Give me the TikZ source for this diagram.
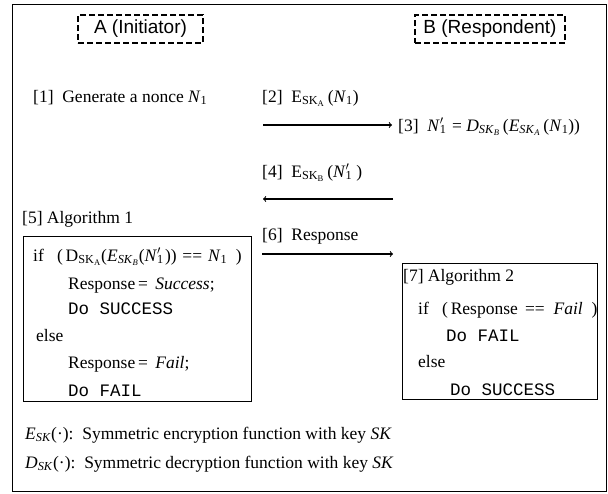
\documentclass[tikz,border=0pt]{standalone}
\usepackage{fontspec}
\setmainfont{Liberation Serif}
\setsansfont{Liberation Sans}
\setmonofont{Liberation Mono}
\usetikzlibrary{positioning}

\newcommand{\lo}[1]{\textsubscript{#1}}
\newcommand{\None}{\textit{N}\lo{1}}
\newcommand{\Nprime}{\textit{N}\rlap{\lo{1}}\makebox[0.45em][l]{$^{\prime}$}}

\begin{document}
\begin{tikzpicture}[x=1pt,y=-1pt,
	every node/.style={inner sep=0pt},
	txt/.style={anchor=base west,font=\fontsize{17.5}{21}\selectfont},
	actor/.style={draw,dash pattern=on 6pt off 3pt,line width=1.6pt,font=\sffamily\fontsize{19}{22}\selectfont,minimum height=28pt},
	algbox/.style={draw,line width=0.8pt,anchor=north west},
	msg/.style={->,line width=1.1pt}]
	\useasboundingbox (0,0) rectangle (608,493);
	\draw[line width=0.8pt] (12,4) rectangle (606,491);
	% the two parties
	\node[actor,minimum width=125pt] (initiator) at (140.5,29) {A (Initiator)};
	\node[actor,minimum width=150pt] (respondent) at (490,29) {B (Respondent)};
	% steps
	\node[txt] (step1) at (33,102) {[1]\ \ Generate a nonce \None};
	\node[txt] (step2) at (262,102) {[2]\ \ E\lo{SK\lo{A}}\,(\None)};
	\node[txt] (step3) at (398,131) {[3]\ \ \Nprime\ =\ \textit{D}\lo{\textit{SK}\lo{\textit{B}}}\,(\textit{E}\lo{\textit{SK}\lo{\textit{A}}}\,(\None))};
	\node[txt] (step4) at (262,177) {[4]\ \ E\lo{SK\lo{B}}\,(\Nprime\,)};
	\node[txt] (step5) at (22,223) {[5] Algorithm 1};
	\node[txt] (step6) at (262,240) {[6]\ \ Response};
	% messages
	\coordinate (m2from) at (263,125);
	\coordinate (m2to) at (392,125);
	\coordinate (m4from) at (393,199);
	\coordinate (m4to) at (263,199);
	\coordinate (m6from) at (262,254);
	\coordinate (m6to) at (393,254);
	\draw[msg] (m2from) -- (m2to);
	\draw[msg] (m4from) -- (m4to);
	\draw[msg] (m6from) -- (m6to);
	% algorithm 1
	\node[algbox,minimum width=228pt,minimum height=165pt] (alg1) at (23,236) {};
	\node[txt] (a1if) at (33,261) {if\ \ \ (\,D\lo{SK\lo{A}}(\textit{E}\lo{\textit{SK}\lo{\textit{B}}}(\Nprime))\,\,==\,\,\None\ \ )};
	\node[txt] (a1resp) at (68,289) {Response\,=\ \,\textit{Success};};
	\node[txt] (a1do) at (68,314) {\texttt{Do SUCCESS}};
	\node[txt] (a1else) at (36,341) {else};
	\node[txt] (a1fail) at (68,368) {Response\,=\ \,\textit{Fail};};
	\node[txt] (a1dofail) at (68,396) {\texttt{Do FAIL}};
	% algorithm 2
	\node[algbox,minimum width=195pt,minimum height=136pt] (alg2) at (402,263) {};
	\node[txt] (a2head) at (403,281) {[7] Algorithm 2};
	\node[txt] (a2if) at (418,314) {if\ \ \ (\,Response\ \,==\ \ \textit{Fail}\ \ )};
	\node[txt] (a2do) at (446,341) {\texttt{Do FAIL}};
	\node[txt] (a2else) at (418,367) {else};
	\node[txt] (a2dos) at (450,395) {\texttt{Do SUCCESS}};
	% legend
	\node[txt] (enc) at (25,439) {\textit{E}\lo{\textit{SK}}(·):\ \ Symmetric encryption function with key \textit{SK}};
	\node[txt] (dec) at (25,468) {\textit{D}\lo{\textit{SK}}(·):\ \ Symmetric decryption function with key \textit{SK}};
\end{tikzpicture}
\end{document}
